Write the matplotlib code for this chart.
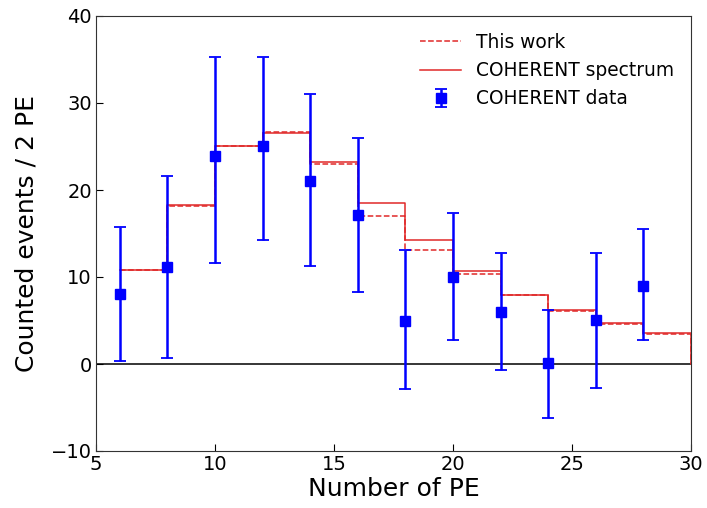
import matplotlib
matplotlib.use("Agg")
import matplotlib.pyplot as plt
import numpy as np

# Bin edges (PE) and histogram contents per 2-PE bin
bin_left = [6, 8, 10, 12, 14, 16, 18, 20, 22, 24, 26, 28]
bin_end = 30
this_work = [10.8, 18.2, 25.1, 26.7, 23.0, 17.05, 13.1, 10.3, 7.9, 6.1, 4.55, 3.4]
coherent_spectrum = [10.8, 18.3, 25.0, 26.55, 23.25, 18.55, 14.25, 10.7, 7.97, 6.2, 4.75, 3.56]

# COHERENT measured counts with lower/upper error bar ends
data_x = [6, 8, 10, 12, 14, 16, 18, 20, 22, 24, 26, 28]
data_y = [8.0, 11.1, 23.9, 25.05, 21.0, 17.1, 5.0, 10.0, 6.0, 0.15, 5.1, 9.0]
data_lo = [0.4, 0.65, 11.6, 14.25, 11.3, 8.3, -2.9, 2.8, -0.65, -6.2, -2.8, 2.8]
data_hi = [15.7, 21.6, 35.3, 35.3, 31.0, 26.0, 13.1, 17.4, 12.8, 6.2, 12.8, 15.5]

fig = plt.figure(figsize=(7.07, 5.08), dpi=100)
ax = fig.add_axes([96 / 707, 1 - 451 / 508, (691 - 96) / 707, (451 - 16) / 508])

edges = bin_left + [bin_end]
ax.step(edges, this_work + [0], where="post", color="#e02828", ls="--", lw=1.1,
        label="This work", zorder=3)
ax.step(edges, coherent_spectrum + [0], where="post", color="#e02828", ls="-", lw=1.1,
        label="COHERENT spectrum", zorder=3)

y = np.array(data_y)
yerr = [y - np.array(data_lo), np.array(data_hi) - y]
ax.errorbar(data_x, data_y, yerr=yerr, fmt="s", color="blue", ms=7, lw=1.8,
            capsize=4, capthick=1.3, label="COHERENT data", zorder=4)

ax.axhline(0, color="black", lw=1.1, zorder=2)

ax.set_xlim(5, 30)
ax.set_ylim(-10, 40)
ax.set_xticks([5, 10, 15, 20, 25, 30])
ax.set_yticks([-10, 0, 10, 20, 30, 40])
ax.tick_params(direction="in", labelsize=14, length=5, pad=3)
for s in ax.spines.values():
    s.set_color("#333333")
ax.set_xlabel("Number of PE", fontsize=18, labelpad=2)
ax.set_ylabel("Counted events / 2 PE", fontsize=18, labelpad=9)

ax.legend(loc="upper right", frameon=False, fontsize=13.4, borderaxespad=0.5,
          handlelength=2.2)

fig.savefig("out.png", dpi=100)
